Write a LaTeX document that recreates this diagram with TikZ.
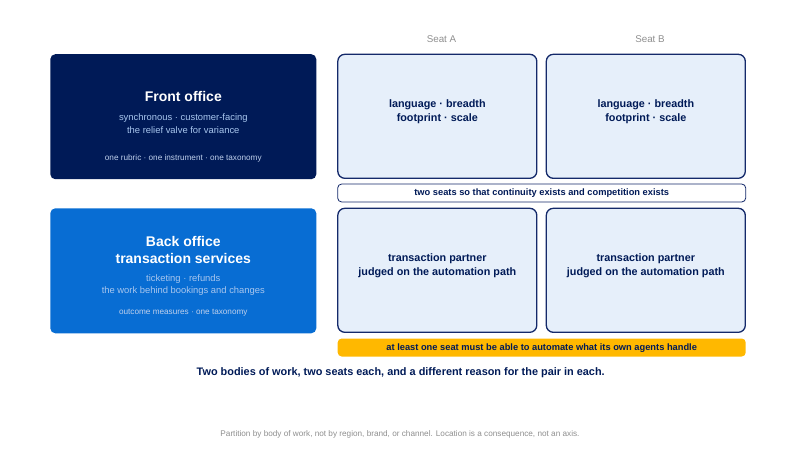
\documentclass[tikz,border=0pt]{standalone}
\usepackage{fontspec}
\setmainfont{Liberation Sans}
\usetikzlibrary{positioning}
\definecolor{navy}{HTML}{001A57}
\definecolor{seatline}{HTML}{14296A}
\definecolor{backblue}{HTML}{086DD3}
\definecolor{seatfill}{HTML}{E6EFFA}
\definecolor{paleblue}{HTML}{A8C6EE}
\definecolor{palegrey}{HTML}{BFD0EC}
\definecolor{amber}{HTML}{FFB800}
\definecolor{greytext}{HTML}{8E8E8E}
\newcommand{\fs}[1]{\fontsize{#1}{#1}\selectfont}

\begin{document}
\begin{tikzpicture}[x=1pt, y=-1pt,
  office/.style={rounded corners=5pt, minimum width=266pt, minimum height=125pt, inner sep=0pt},
  seat/.style={draw=seatline, line width=1.3pt, fill=seatfill, rounded corners=7pt, minimum width=199pt, minimum height=124pt, inner sep=0pt},
  strip/.style={rounded corners=4pt, minimum width=408pt, minimum height=18pt, inner sep=0pt},
  title/.style={anchor=base, text=white, font=\bfseries\fs{14}},
  sub/.style={anchor=base, font=\fs{9.4}},
  tag/.style={anchor=base, font=\fs{8.2}},
  seattext/.style={anchor=base, text=navy, font=\bfseries\fs{10.8}},
  striptext/.style={anchor=base, text=navy, font=\bfseries\fs{9.3}},
  head/.style={anchor=base, text=greytext, font=\fs{9.8}}]
\useasboundingbox (0,0) rectangle (800,450);

% Seat headers
\node[head] (seatA) at (441.5,42.5) {Seat A};
\node[head] (seatB) at (650,42.5) {Seat B};

% Front office
\node[office, fill=navy] (front) at (183.3,116.7) {};
\node[title] (fronttitle) at (183.3,101) {Front office};
\node[sub, text=paleblue] (frontsubA) at (183.3,120.5) {synchronous · customer-facing};
\node[sub, text=paleblue] (frontsubB) at (183.3,133.5) {the relief valve for variance};
\node[tag, text=palegrey] (fronttag) at (183.3,160) {one rubric · one instrument · one taxonomy};

% Back office
\node[office, fill=backblue] (back) at (183.3,270.8) {};
\node[title] (backtitleA) at (183.3,246.5) {Back office};
\node[title] (backtitleB) at (183.3,263) {transaction services};
\node[sub, text=paleblue] (backsubA) at (183.3,281) {ticketing · refunds};
\node[sub, text=paleblue] (backsubB) at (183.3,293.5) {the work behind bookings and changes};
\node[tag, text=palegrey] (backtag) at (183.3,314) {outcome measures · one taxonomy};

% Front office seats
\node[seat] (frontA) at (437.3,116.3) {};
\node[seat] (frontB) at (645.8,116.3) {};
\foreach \s in {frontA,frontB} {
  \node[seattext] at ([yshift=9pt]\s.center) {language · breadth};
  \node[seattext] at ([yshift=-5.5pt]\s.center) {footprint · scale};
}
\node[strip, draw=seatline, line width=0.8pt, fill=white] (frontnote) at (541.7,193) {};
\node[striptext] at (541.7,195.7) {two seats so that continuity exists and competition exists};

% Back office seats
\node[seat] (backA) at (437.3,270.3) {};
\node[seat] (backB) at (645.8,270.3) {};
\foreach \s in {backA,backB} {
  \node[seattext] at ([yshift=9pt]\s.center) {transaction partner};
  \node[seattext] at ([yshift=-5.5pt]\s.center) {judged on the automation path};
}
\node[strip, fill=amber] (backnote) at (541.7,347.5) {};
\node[striptext] at (541.7,350.3) {at least one seat must be able to automate what its own agents handle};

% Captions
\node[anchor=base, text=navy, font=\bfseries\fs{10.9}] (caption) at (400.7,375) {Two bodies of work, two seats each, and a different reason for the pair in each.};
\node[anchor=base, text=greytext, font=\fs{8.2}] (footnote) at (400,436) {Partition by body of work, not by region, brand, or channel. Location is a consequence, not an axis.};
\end{tikzpicture}
\end{document}
